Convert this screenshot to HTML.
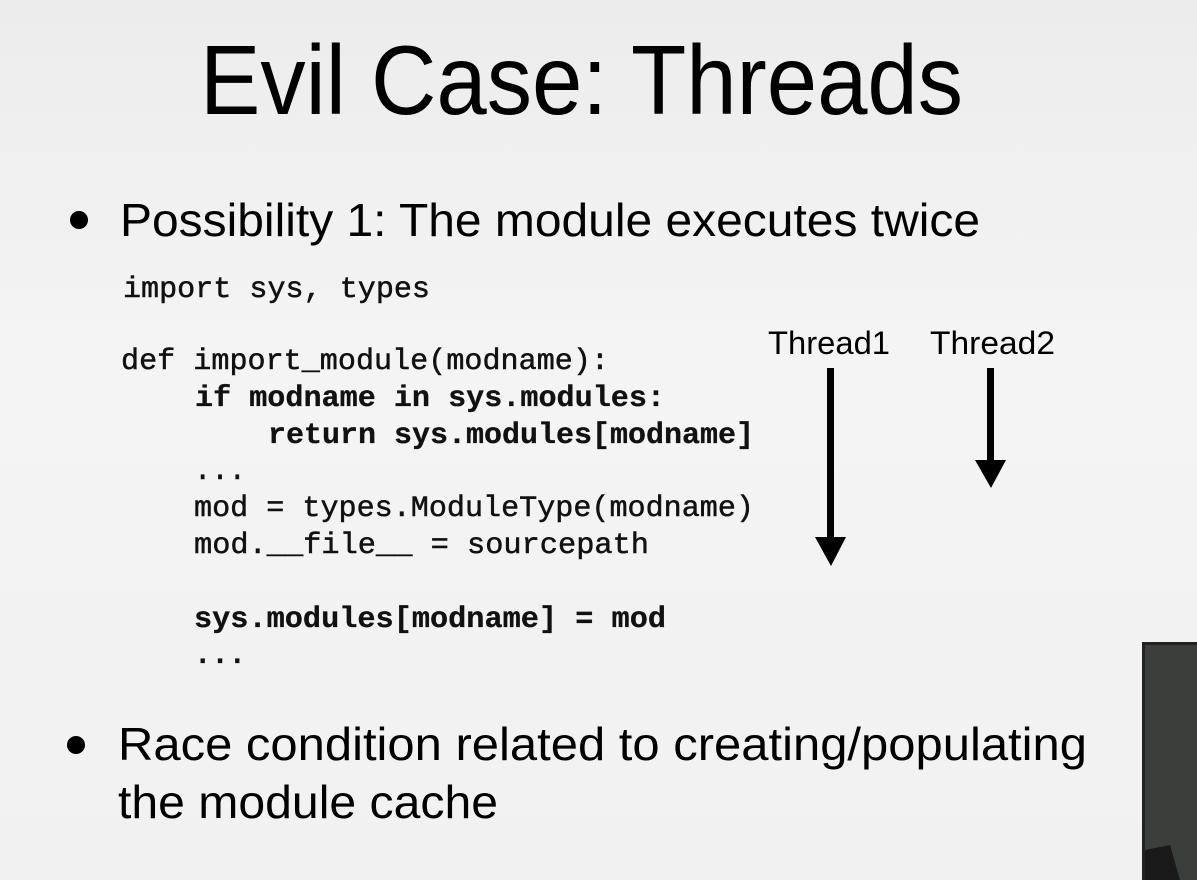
<!DOCTYPE html>
<html><head><meta charset="utf-8"><style>
html,body{margin:0;padding:0;}
body{width:1197px;height:880px;overflow:hidden;background:linear-gradient(#ececec,#f4f4f4 40%,#f1f1f1);}
svg{display:block}
.s{font-family:"Liberation Sans",sans-serif;fill:#000}
.m{font-family:"Liberation Mono",monospace;fill:#111;font-size:30px;stroke:#111;stroke-width:0.5px}
.b{font-weight:bold;stroke-width:0.3px}
</style></head><body>
<svg width="1197" height="880" viewBox="0 0 1197 880" xmlns="http://www.w3.org/2000/svg">
<text class="s" x="200" y="114" font-size="98" textLength="763" lengthAdjust="spacingAndGlyphs">Evil Case: Threads</text>
<circle cx="79" cy="220" r="9" fill="#000"/>
<text class="s" x="120" y="236" font-size="46" textLength="860" lengthAdjust="spacingAndGlyphs">Possibility 1: The module executes twice</text>
<text class="m" x="123" y="297" textLength="307" lengthAdjust="spacingAndGlyphs">import sys, types</text>
<text class="m" x="121" y="369" textLength="488" lengthAdjust="spacingAndGlyphs">def import_module(modname):</text>
<text class="m b" x="195" y="406" textLength="470" lengthAdjust="spacingAndGlyphs">if modname in sys.modules:</text>
<text class="m b" x="268" y="443" textLength="486" lengthAdjust="spacingAndGlyphs">return sys.modules[modname]</text>
<text class="m" x="194" y="479" textLength="52" lengthAdjust="spacingAndGlyphs">...</text>
<text class="m" x="194" y="516" textLength="560" lengthAdjust="spacingAndGlyphs">mod = types.ModuleType(modname)</text>
<text class="m" x="194" y="553" textLength="455" lengthAdjust="spacingAndGlyphs">mod.__file__ = sourcepath</text>
<text class="m b" x="194" y="627" textLength="472" lengthAdjust="spacingAndGlyphs">sys.modules[modname] = mod</text>
<text class="m b" x="194" y="663" textLength="52" lengthAdjust="spacingAndGlyphs">...</text>
<text class="s" x="768" y="354" font-size="32" textLength="122" lengthAdjust="spacingAndGlyphs">Thread1</text>
<text class="s" x="930" y="354" font-size="32" textLength="125" lengthAdjust="spacingAndGlyphs">Thread2</text>
<rect x="827" y="368" width="7" height="172" fill="#000"/>
<polygon points="815,537 846,537 831,566" fill="#000"/>
<rect x="987" y="368" width="7" height="96" fill="#000"/>
<polygon points="975,460 1006,460 991,488" fill="#000"/>
<circle cx="76" cy="745" r="9" fill="#000"/>
<text class="s" x="118" y="760" font-size="46" textLength="969" lengthAdjust="spacingAndGlyphs">Race condition related to creating/populating</text>
<text class="s" x="118" y="818" font-size="46" textLength="380" lengthAdjust="spacingAndGlyphs">the module cache</text>
<rect x="1142" y="642" width="55" height="238" fill="#3b3f3b"/>
<rect x="1142" y="642" width="55" height="3" fill="#222"/>
<rect x="1142" y="642" width="3" height="238" fill="#222"/>
<polygon points="1145,850 1170,845 1180,880 1145,880" fill="#1a1a1a"/>
</svg>
</body></html>
